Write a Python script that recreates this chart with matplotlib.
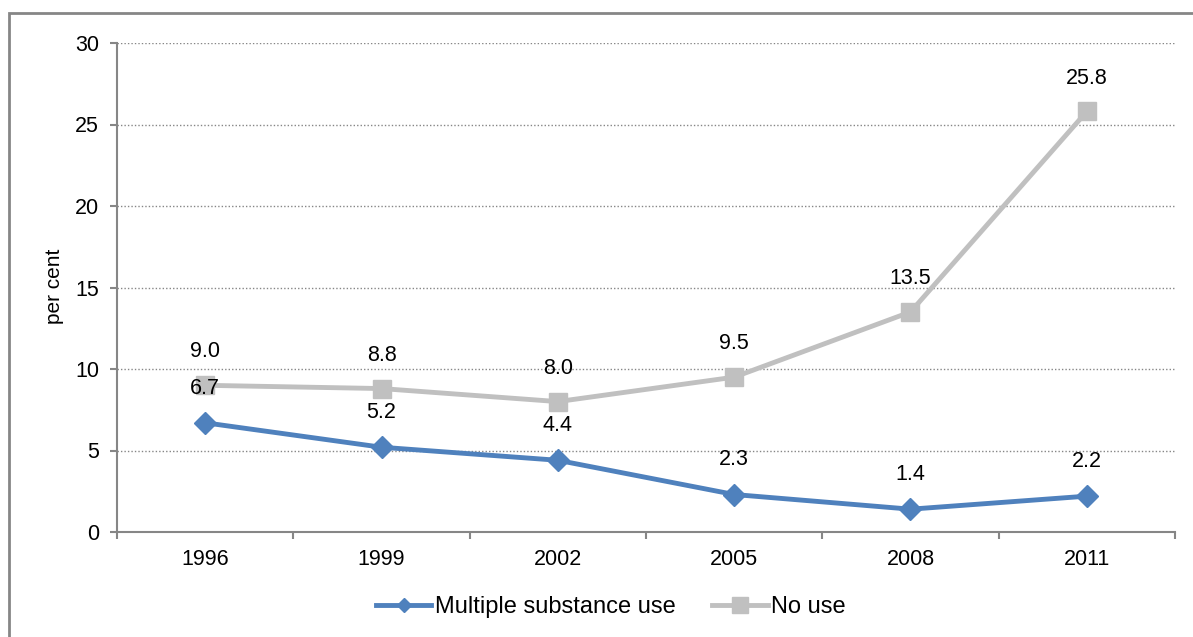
import matplotlib.pyplot as plt
import matplotlib.patches as mpatches
from matplotlib.lines import Line2D

plt.rcParams['font.family'] = ['Liberation Sans', 'DejaVu Sans']

years = ['1996', '1999', '2002', '2005', '2008', '2011']
multiple_use = [6.7, 5.2, 4.4, 2.3, 1.4, 2.2]
no_use = [9.0, 8.8, 8.0, 9.5, 13.5, 25.8]

blue = '#4F81BD'
grey = '#C0C0C0'
axis_col = '#868686'

W, H = 1193, 637
fig = plt.figure(figsize=(W / 100, H / 100), dpi=100)
ax = fig.add_axes([117 / W, 1 - 532 / H, (1175 - 117) / W, (532 - 43) / H])

x = list(range(len(years)))
ax.plot(x, multiple_use, color=blue, lw=3.5, marker='D', ms=11, zorder=3)
ax.plot(x, no_use, color=grey, lw=3.5, marker='s', ms=13.5, zorder=3)

# data labels above each point
for i, v in enumerate(multiple_use):
    ax.annotate(f'{v:.1f}', (i, v), xytext=(0, 25), textcoords='offset points',
                ha='center', va='center', fontsize=15.5)
for i, v in enumerate(no_use):
    ax.annotate(f'{v:.1f}', (i, v), xytext=(0, 24), textcoords='offset points',
                ha='center', va='center', fontsize=15.5)

ax.set_xlim(-0.5, 5.5)
ax.set_ylim(0, 30)
ax.set_yticks(range(0, 31, 5))
ax.set_xticks(x)
ax.set_xticklabels(years)
ax.set_xticks([i - 0.5 for i in range(7)], minor=True)
ax.tick_params(axis='x', which='major', length=0, pad=12, labelsize=15.5)
ax.tick_params(axis='x', which='minor', length=5, color=axis_col, width=1.5)
ax.tick_params(axis='y', length=5, color=axis_col, width=1.5, labelsize=15.5, pad=8)
ax.grid(axis='y', linestyle=(0, (1, 1.5)), color=axis_col, lw=1)
for s in ['top', 'right']:
    ax.spines[s].set_visible(False)
for s in ['left', 'bottom']:
    ax.spines[s].set_color(axis_col)
    ax.spines[s].set_linewidth(1.5)

fig.text(54 / W, 1 - 286 / H, 'per cent', rotation=90, ha='center', va='center', fontsize=15)

handles = [Line2D([], [], color=blue, lw=3.5, marker='D', ms=7.5),
           Line2D([], [], color=grey, lw=3.5, marker='s', ms=12)]
fig.legend(handles, ['Multiple substance use', 'No use'], loc='center',
           bbox_to_anchor=(611 / W, 1 - 607 / H), ncol=2, frameon=False,
           fontsize=17, handlelength=2.35, handletextpad=0.15, columnspacing=1.55)

fig.patches.append(mpatches.Rectangle((9 / W, -0.1), 1.2, 1 - 13 / H + 0.1,
                                      transform=fig.transFigure, fill=False,
                                      edgecolor=axis_col, lw=2))

fig.savefig('out.png', dpi=100)
